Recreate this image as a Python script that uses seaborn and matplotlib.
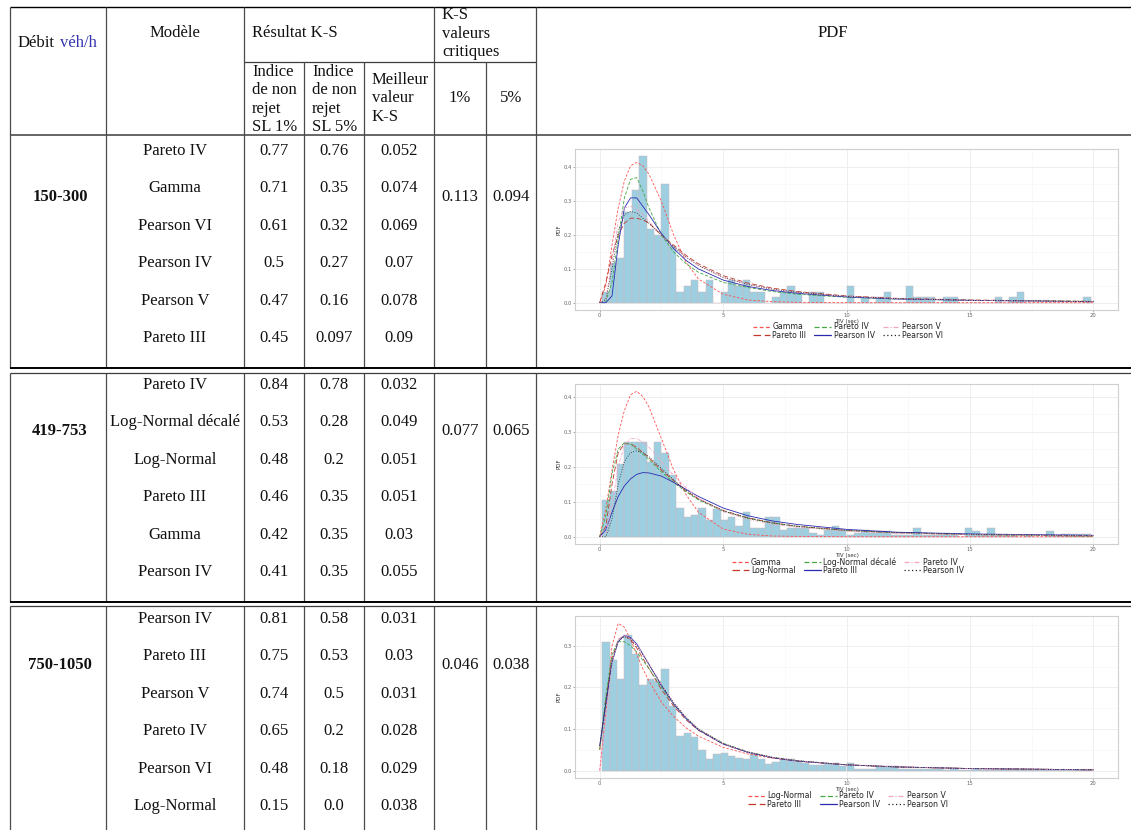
import numpy as np
import pandas as pd
import seaborn as sns
import matplotlib.pyplot as plt
from matplotlib.ticker import FormatStrFormatter

# ---- table data ----
debits = ["150-300", "419-753", "750-1050"]
modeles = [
    ["Pareto IV", "Gamma", "Pearson VI", "Pearson IV", "Pearson V", "Pareto III"],
    ["Pareto IV", "Log-Normal décalé", "Log-Normal", "Pareto III", "Gamma", "Pearson IV"],
    ["Pearson IV", "Pareto III", "Pearson V", "Pareto IV", "Pearson VI", "Log-Normal"],
]
indice_sl1 = [
    ["0.77", "0.71", "0.61", "0.5", "0.47", "0.45"],
    ["0.84", "0.53", "0.48", "0.46", "0.42", "0.41"],
    ["0.81", "0.75", "0.74", "0.65", "0.48", "0.15"],
]
indice_sl5 = [
    ["0.76", "0.35", "0.32", "0.27", "0.16", "0.097"],
    ["0.78", "0.28", "0.2", "0.35", "0.35", "0.35"],
    ["0.58", "0.53", "0.5", "0.2", "0.18", "0.0"],
]
meilleur_ks = [
    ["0.052", "0.074", "0.069", "0.07", "0.078", "0.09"],
    ["0.032", "0.049", "0.051", "0.051", "0.03", "0.055"],
    ["0.031", "0.03", "0.031", "0.028", "0.029", "0.038"],
]
ks_crit_1 = ["0.113", "0.077", "0.046"]
ks_crit_5 = ["0.094", "0.065", "0.038"]

# ---- histogram data (density per 0.3 s bin, starting at 0.1 s) ----
bin_start = 0.1
bin_width = 0.3
hist_150_300 = [0.033, 0.117, 0.133, 0.267, 0.333, 0.433, 0.217, 0.2, 0.35, 0.167,
                0.033, 0.05, 0.067, 0.033, 0.067, 0, 0.033, 0.067, 0.05, 0.067,
                0.033, 0.033, 0, 0.017, 0.033, 0.05, 0.033, 0, 0.033, 0.033,
                0, 0, 0, 0.05, 0, 0.017, 0, 0.017, 0.033, 0,
                0, 0.05, 0.017, 0.017, 0.017, 0, 0.017, 0.017, 0, 0,
                0, 0, 0, 0.017, 0, 0.017, 0.033, 0, 0, 0,
                0, 0, 0, 0, 0, 0.017]
hist_419_753 = [0.105, 0.13, 0.207, 0.27, 0.27, 0.27, 0.214, 0.27, 0.238, 0.177,
                0.083, 0.055, 0.061, 0.083, 0.047, 0.08, 0.048, 0.055, 0.03, 0.07,
                0.025, 0.025, 0.055, 0.055, 0.02, 0.025, 0.025, 0.025, 0.01, 0.005,
                0.02, 0.03, 0.02, 0.005, 0.01, 0.02, 0.01, 0.015, 0.015, 0.005,
                0.005, 0.005, 0.025, 0.005, 0.005, 0.005, 0.01, 0.005, 0, 0.025,
                0.015, 0.005, 0.025, 0.005, 0.005, 0.005, 0, 0.005, 0, 0,
                0.015, 0.005, 0.008, 0.008, 0.008, 0.008]
hist_750_1050 = [0.31, 0.265, 0.22, 0.325, 0.28, 0.205, 0.22, 0.215, 0.245, 0.155,
                 0.083, 0.09, 0.08, 0.05, 0.027, 0.04, 0.043, 0.035, 0.03, 0.028,
                 0.04, 0.027, 0.017, 0.02, 0.028, 0.028, 0.02, 0.018, 0.013, 0.013,
                 0.015, 0.018, 0.01, 0.018, 0.005, 0.005, 0.005, 0.008, 0.01, 0.01,
                 0.005, 0.004, 0.003, 0.003, 0.004, 0.003, 0.002, 0.003, 0.002, 0.002,
                 0.005, 0.002, 0.002, 0.002, 0.005, 0.001, 0.002, 0.002, 0.001, 0.001,
                 0.001, 0.001, 0.001, 0.001, 0.002, 0.002]

# ---- fitted pdf curves, read at these TIV values ----
x_pdf = [0, 0.25, 0.5, 0.75, 1, 1.25, 1.5, 1.75, 2, 2.5, 3, 3.5, 4, 5, 6, 7, 8, 10, 12, 15, 20]

noms_150_300 = ["Gamma", "Pareto III", "Pareto IV", "Pearson IV", "Pearson V", "Pearson VI"]
g1_gamma = [0, 0.05, 0.17, 0.28, 0.36, 0.405, 0.415, 0.405, 0.38, 0.30, 0.20, 0.12, 0.07, 0.025, 0.008, 0.003, 0.001, 0, 0, 0, 0]
g1_pareto3 = [0, 0.06, 0.14, 0.2, 0.235, 0.25, 0.25, 0.245, 0.235, 0.2, 0.17, 0.14, 0.115, 0.08, 0.058, 0.043, 0.033, 0.02, 0.013, 0.008, 0.004]
g1_pareto4 = [0, 0.005, 0.06, 0.19, 0.31, 0.365, 0.37, 0.33, 0.28, 0.2, 0.15, 0.115, 0.09, 0.06, 0.045, 0.033, 0.025, 0.016, 0.011, 0.007, 0.004]
g1_pearson4 = [0, 0, 0.02, 0.17, 0.28, 0.31, 0.31, 0.285, 0.26, 0.205, 0.16, 0.125, 0.1, 0.067, 0.048, 0.036, 0.028, 0.017, 0.011, 0.007, 0.003]
g1_pearson5 = [0, 0.01, 0.12, 0.24, 0.28, 0.285, 0.275, 0.26, 0.24, 0.2, 0.165, 0.135, 0.11, 0.075, 0.054, 0.04, 0.03, 0.019, 0.012, 0.007, 0.003]
g1_pearson6 = [0, 0.01, 0.1, 0.21, 0.26, 0.27, 0.265, 0.25, 0.235, 0.2, 0.165, 0.135, 0.11, 0.075, 0.054, 0.04, 0.031, 0.019, 0.012, 0.007, 0.003]

noms_419_753 = ["Gamma", "Log-Normal", "Log-Normal décalé", "Pareto III", "Pareto IV", "Pearson IV"]
g2_gamma = [0, 0.08, 0.19, 0.29, 0.36, 0.405, 0.415, 0.4, 0.37, 0.28, 0.19, 0.12, 0.07, 0.022, 0.007, 0.002, 0.001, 0, 0, 0, 0]
g2_lognorm = [0, 0.03, 0.15, 0.24, 0.265, 0.265, 0.255, 0.24, 0.225, 0.19, 0.16, 0.13, 0.108, 0.075, 0.054, 0.04, 0.03, 0.018, 0.011, 0.006, 0.002]
g2_lognorm_dec = [0, 0.06, 0.18, 0.25, 0.268, 0.265, 0.25, 0.235, 0.22, 0.185, 0.155, 0.128, 0.105, 0.073, 0.053, 0.039, 0.029, 0.017, 0.011, 0.006, 0.002]
g2_pareto3 = [0, 0.02, 0.07, 0.115, 0.145, 0.165, 0.178, 0.183, 0.182, 0.173, 0.155, 0.135, 0.115, 0.082, 0.06, 0.045, 0.035, 0.021, 0.013, 0.008, 0.004]
g2_pareto4 = [0, 0.01, 0.09, 0.2, 0.26, 0.28, 0.28, 0.27, 0.255, 0.215, 0.175, 0.14, 0.11, 0.072, 0.05, 0.036, 0.027, 0.016, 0.01, 0.006, 0.003]
g2_pearson4 = [0, 0, 0.05, 0.15, 0.215, 0.24, 0.245, 0.24, 0.228, 0.195, 0.162, 0.133, 0.108, 0.074, 0.053, 0.039, 0.03, 0.018, 0.012, 0.007, 0.003]

noms_750_1050 = ["Log-Normal", "Pareto III", "Pareto IV", "Pearson IV", "Pearson V", "Pearson VI"]
g3_lognorm = [0, 0.14, 0.3, 0.354, 0.345, 0.315, 0.28, 0.245, 0.215, 0.165, 0.13, 0.103, 0.083, 0.056, 0.04, 0.03, 0.023, 0.014, 0.009, 0.005, 0.002]
g3_pareto3 = [0.05, 0.17, 0.27, 0.315, 0.325, 0.315, 0.295, 0.27, 0.245, 0.195, 0.155, 0.122, 0.097, 0.064, 0.044, 0.031, 0.023, 0.014, 0.009, 0.005, 0.002]
g3_pareto4 = [0.05, 0.18, 0.28, 0.31, 0.31, 0.3, 0.285, 0.265, 0.245, 0.2, 0.16, 0.126, 0.1, 0.066, 0.045, 0.032, 0.024, 0.014, 0.009, 0.005, 0.002]
g3_pearson4 = [0.06, 0.16, 0.26, 0.31, 0.325, 0.32, 0.305, 0.28, 0.255, 0.205, 0.16, 0.125, 0.098, 0.064, 0.044, 0.031, 0.023, 0.014, 0.009, 0.005, 0.002]
g3_pearson5 = [0, 0.12, 0.26, 0.315, 0.325, 0.318, 0.302, 0.28, 0.256, 0.207, 0.163, 0.128, 0.1, 0.065, 0.045, 0.032, 0.024, 0.014, 0.009, 0.005, 0.002]
g3_pearson6 = [0.06, 0.165, 0.265, 0.312, 0.322, 0.316, 0.3, 0.278, 0.255, 0.206, 0.163, 0.128, 0.1, 0.065, 0.045, 0.032, 0.024, 0.014, 0.009, 0.005, 0.002]

panels = [
    (hist_150_300, noms_150_300, [g1_gamma, g1_pareto3, g1_pareto4, g1_pearson4, g1_pearson5, g1_pearson6]),
    (hist_419_753, noms_419_753, [g2_gamma, g2_lognorm, g2_lognorm_dec, g2_pareto3, g2_pareto4, g2_pearson4]),
    (hist_750_1050, noms_750_1050, [g3_lognorm, g3_pareto3, g3_pareto4, g3_pearson4, g3_pearson5, g3_pearson6]),
]

# styles by legend position (same order in every panel)
line_colors = ["#ff5050", "#c0392b", "#45a845", "#2a2ab0", "#f2a6c8", "#222222"]
line_dashes = [(3, 2), (6, 3), (4, 2), "", (4, 1.5, 1, 1.5), (1, 2)]

sns.set_theme(style="white")
plt.rcParams["font.family"] = ["DejaVu Sans"]

W, H = 1131, 830
fig = plt.figure(figsize=(W / 100, H / 100), dpi=100)
tab = fig.add_axes([0, 0, 1, 1])
tab.set_xlim(0, W)
tab.set_ylim(H, 0)
tab.axis("off")

serif = "Liberation Serif"


def txt(x, y, s, ha="left", color="#111111", **kw):
    tab.text(x, y, s, ha=ha, va="center", family=serif, fontsize=12, color=color, **kw)


def hline(y, x0=10, x1=W, lw=0.9, c="#3c3c3c"):
    tab.plot([x0, x1], [y, y], color=c, lw=lw, solid_capstyle="butt")


def vline(x, y0, y1, lw=0.9, c="#4a4a4a"):
    tab.plot([x, x], [y0, y1], color=c, lw=lw, solid_capstyle="butt")


# header
hline(7, lw=1.0, c="black")
for x in [10, 106, 244, 434, 536]:
    vline(x, 7, 135)
hline(62, 244, 536)
for x in [304, 364, 486]:
    vline(x, 62, 135)
hline(135, lw=1.1)

txt(18, 43, "Débit")
txt(60, 43, "véh/h", color="#3434b0")
txt(175, 33, "Modèle", ha="center")
txt(252, 33, "Résultat K-S")
for i, s in enumerate(["K-S", "valeurs", "critiques"]):
    txt(442, 15 + 18.5 * i, s)
txt(833, 33, "PDF", ha="center")
for x0, sl in [(252, "SL 1%"), (312, "SL 5%")]:
    for i, s in enumerate(["Indice", "de non", "rejet", sl]):
        txt(x0, 72 + 18.3 * i, s)
for i, s in enumerate(["Meilleur", "valeur", "K-S"]):
    txt(372, 80 + 18.3 * i, s)
txt(460, 98, "1%", ha="center")
txt(511, 98, "5%", ha="center")

# body rows
group_spans = [(135, 368), (373, 602), (606, 830)]
row_first = [151, 385, 619]
for g, (y0, y1) in enumerate(group_spans):
    for x in [10, 106, 244, 304, 364, 434, 486, 536]:
        vline(x, y0, y1)
    yl = row_first[g] + 46
    txt(60, yl, debits[g], ha="center", fontweight="bold")
    txt(460, yl, ks_crit_1[g], ha="center")
    txt(511, yl, ks_crit_5[g], ha="center")
    for r in range(6):
        y = row_first[g] + 37.4 * r
        txt(175, y, modeles[g][r], ha="center")
        txt(274, y, indice_sl1[g][r], ha="center")
        txt(334, y, indice_sl5[g][r], ha="center")
        txt(399, y, meilleur_ks[g][r], ha="center")
hline(368, lw=1.4, c="black")
hline(373)
hline(602, lw=1.4, c="black")
hline(606)

# ---- PDF panels ----
panel_boxes = [(575, 149, 1118, 310), (575, 384, 1118, 544), (575, 616, 1118, 778)]
legend_y = [331, 566, 800]

for (heights, noms, curves), (l, t, r, b), ly in zip(panels, panel_boxes, legend_y):
    ax = fig.add_axes([l / W, 1 - b / H, (r - l) / W, (b - t) / H])
    n = len(heights)
    df_h = pd.DataFrame({
        "tiv": bin_start + bin_width * (np.arange(n) + 0.5),
        "dens": heights,
    })
    sns.histplot(data=df_h, x="tiv", weights="dens", binwidth=bin_width,
                 binrange=(bin_start, bin_start + bin_width * n),
                 color="#9ecfe0", edgecolor="#c9b8c0", linewidth=0.35, alpha=1, ax=ax)

    df = pd.DataFrame({
        "x": np.tile(x_pdf, len(noms)),
        "pdf": np.concatenate(curves),
        "modele": np.repeat(noms, len(x_pdf)),
    })
    sns.lineplot(data=df, x="x", y="pdf", hue="modele", style="modele",
                 hue_order=noms, style_order=noms,
                 palette=dict(zip(noms, line_colors)),
                 dashes=dict(zip(noms, line_dashes)),
                 linewidth=0.6, errorbar=None, ax=ax)

    ymax = max(max(heights), max(max(c) for c in curves))
    ax.set_xlim(-1, 21)
    ax.set_ylim(-0.05 * ymax, 1.05 * ymax)
    ax.set_xticks([0, 5, 10, 15, 20])
    ax.set_xticks([2.5, 7.5, 12.5, 17.5], minor=True)
    ax.set_yticks(np.arange(0, ymax, 0.1))
    ax.set_yticks(np.arange(0.05, ymax, 0.1), minor=True)
    ax.yaxis.set_major_formatter(FormatStrFormatter("%.1f"))
    ax.grid(True, which="major", color="#ebebeb", lw=0.6)
    ax.grid(True, which="minor", color="#f5f5f5", lw=0.4)
    ax.set_axisbelow(True)
    for s in ax.spines.values():
        s.set_color("#cfcfcf")
        s.set_linewidth(0.8)
    ax.tick_params(which="major", labelsize=3.8, colors="#666666", length=1.5, width=0.4, pad=0.6,
                   bottom=True, left=True)
    ax.tick_params(which="minor", length=0)
    ax.set_xlabel("TIV (sec)", fontsize=4, color="#333333", labelpad=0.6)
    ax.set_ylabel("PDF", fontsize=4, color="#333333", labelpad=1.5)

    sns.move_legend(ax, "center", bbox_to_anchor=(848 / W, 1 - ly / H),
                    bbox_transform=fig.transFigure, ncol=3, title=None,
                    frameon=False, fontsize=5.6, handlelength=2.2,
                    handletextpad=0.3, columnspacing=1.0, labelspacing=-0.1,
                    borderpad=0)
    for h in ax.get_legend().get_lines():
        h.set_linewidth(0.9)

fig.savefig("out.png", dpi=100)
